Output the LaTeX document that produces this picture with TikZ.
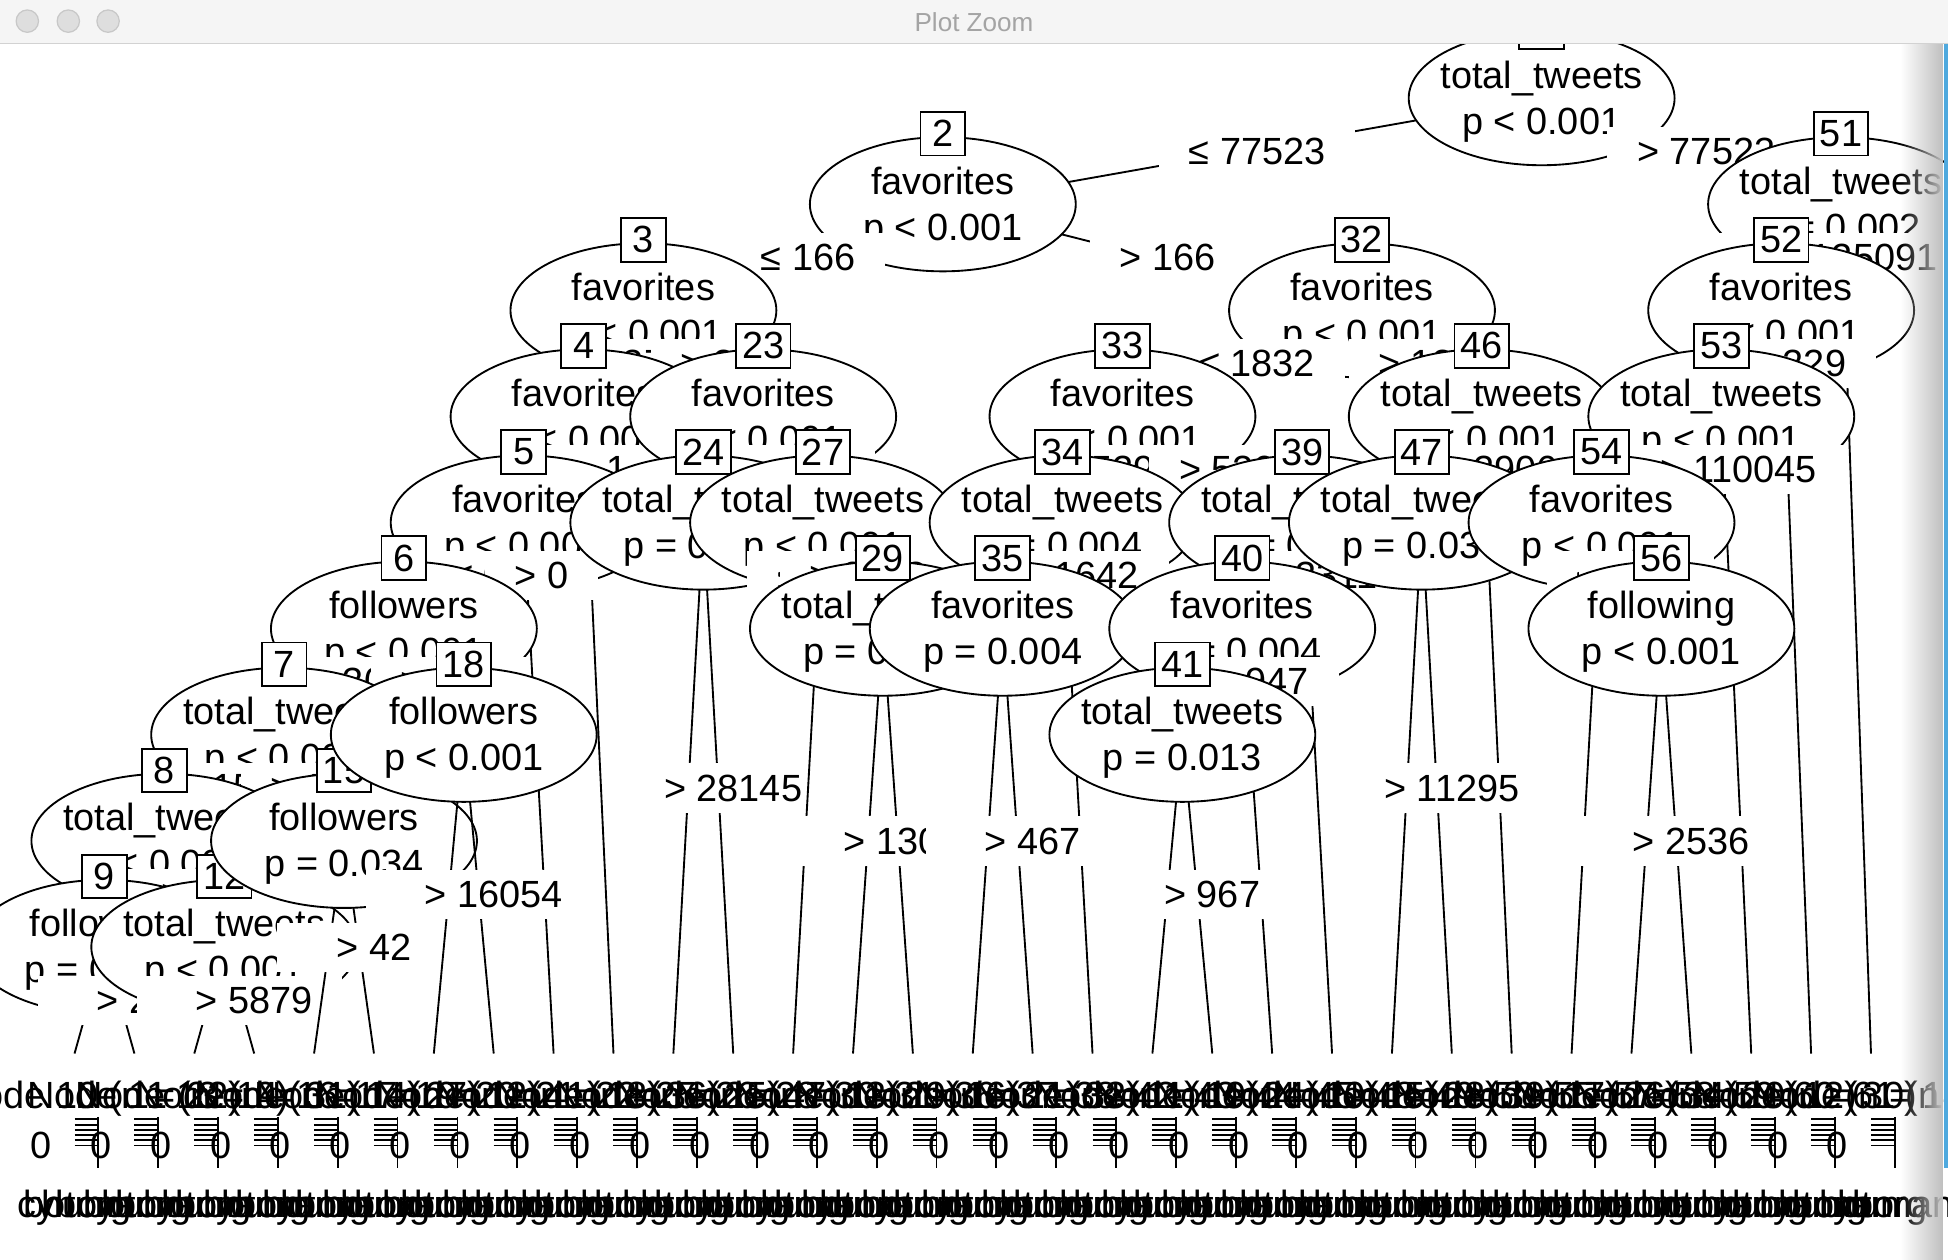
\documentclass[tikz,border=0pt]{standalone}
\usepackage{fontspec}
\setmainfont{Liberation Sans}
\usetikzlibrary{calc}
\usetikzlibrary{shapes.geometric}
\usetikzlibrary{fadings}

\definecolor{barbg}{HTML}{F5F5F5}
\definecolor{barline}{HTML}{D2D2D2}
\definecolor{lightfill}{HTML}{DEDEDE}
\definecolor{lightline}{HTML}{C8C8C8}
\definecolor{titlegray}{HTML}{A4A4A4}
\definecolor{rimblue}{HTML}{4FA9DE}

\tikzfading[name=rimfade, left color=transparent!100, right color=transparent!0]

\newcommand{\treefont}{\fontsize{15.25}{18.5}\selectfont}
% inner node: oval with variable and p value, number box on top
\newcommand{\splitnode}[3]{%
  \node[splitoval] (n#1) at (c#1) {};
  \node[vartext] (v#1) at ([yshift=-1.5pt]n#1.center) {\strut #2\\\strut #3};
  \node[idbox] (b#1) at ([yshift=1pt]n#1.north) {#1};
}

\begin{document}
\begin{tikzpicture}[x=0.5pt, y=-0.5pt,
  branch/.style={line width=0.75pt},
  splitoval/.style={ellipse, draw, line width=0.75pt, fill=white, minimum width=107pt, minimum height=54pt, inner sep=0pt},
  vartext/.style={font=\treefont, align=center, inner sep=0pt},
  idbox/.style={draw, line width=0.75pt, fill=white, font=\treefont, minimum width=18pt, minimum height=17.5pt, inner xsep=2.5pt, inner ysep=0pt},
  splitlabel/.style={fill=white, font=\treefont, inner xsep=12pt, inner ysep=4.5pt, xshift=6pt},
  leaftext/.style={font=\treefont, inner sep=0pt},
  axisline/.style={line width=0.75pt},
  light/.style={circle, draw=lightline, fill=lightfill, line width=0.5pt, minimum size=9pt, inner sep=0pt}]
\useasboundingbox (0,0) rectangle (1568,1014);
\fill[white] (0,0) rectangle (1568,1014);

% positions: x from terminal index, y from depth
\foreach \id/\b/\d in {1/24.5/1, 2/14.5/2, 3/9.5/3, 4/8.5/4, 5/7.5/5, 6/5.5/6, 7/3.5/7, 8/1.5/8, 9/0.5/9,
    12/2.5/9, 15/4.5/8, 18/6.5/7, 23/11.5/4, 24/10.5/5, 27/12.5/5, 29/13.5/6, 32/21.5/3, 33/17.5/4,
    34/16.5/5, 35/15.5/6, 39/20.5/5, 40/19.5/6, 41/18.5/7, 46/23.5/4, 47/22.5/5, 51/29.5/2,
    52/28.5/3, 53/27.5/4, 54/25.5/5, 56/26.5/6}
  \coordinate (c\id) at ({60+48.2*\b},{79+85.4*(\d-1)});
\foreach \id [count=\k from 0] in {10,11,13,14,16,17,19,20,21,22,25,26,28,30,31,36,37,38,
    42,43,44,45,48,49,50,55,57,58,59,60,61}
  \coordinate (t\id) at ({60+48.2*\k},848);

% 1
\draw[branch] (c1) -- (c2); \draw[branch] (c1) -- (c51);
\splitnode{1}{total\_tweets}{p < 0.001}
\node[splitlabel] (e2) at ($(c1)!.5!(c2)$) {≤ 77523};
\node[splitlabel] (e51) at ($(c1)!.5!(c51)$) {> 77523};
% 2
\draw[branch] (c2) -- (c3); \draw[branch] (c2) -- (c32);
\splitnode{2}{favorites}{p < 0.001}
\node[splitlabel] (e3) at ($(c2)!.5!(c3)$) {≤ 166};
\node[splitlabel] (e32) at ($(c2)!.5!(c32)$) {> 166};
% 3
\draw[branch] (c3) -- (c4); \draw[branch] (c3) -- (c23);
\splitnode{3}{favorites}{p < 0.001}
\node[splitlabel] (e4) at ($(c3)!.5!(c4)$) {≤ 37};
\node[splitlabel] (e23) at ($(c3)!.5!(c23)$) {> 37};
% 4
\draw[branch] (c4) -- (c5); \draw[branch] (c4) -- (t22);
\splitnode{4}{favorites}{p < 0.001}
\node[splitlabel] (e5) at ($(c4)!.5!(c5)$) {≤ 1};
\node[splitlabel] (e22) at ($(c4)!.0833!(t22)$) {> 1};
% 5
\draw[branch] (c5) -- (c6); \draw[branch] (c5) -- (t21);
\splitnode{5}{favorites}{p < 0.001}
\node[splitlabel] (e6) at ($(c5)!.5!(c6)$) {≤ 0};
\node[splitlabel] (e21) at ($(c5)!.0999!(t21)$) {> 0};
% 6
\draw[branch] (c6) -- (c7); \draw[branch] (c6) -- (c18);
\splitnode{6}{followers}{p < 0.001}
\node[splitlabel] (e7) at ($(c6)!.5!(c7)$) {≤ 302};
\node[splitlabel] (e18) at ($(c6)!.5!(c18)$) {> 302};
% 7
\draw[branch] (c7) -- (c8); \draw[branch] (c7) -- (c15);
\splitnode{7}{total\_tweets}{p < 0.001}
\node[splitlabel] (e8) at ($(c7)!.5!(c8)$) {≤ 1534};
\node[splitlabel] (e15) at ($(c7)!.5!(c15)$) {> 1534};
% 8
\draw[branch] (c8) -- (c9); \draw[branch] (c8) -- (c12);
\splitnode{8}{total\_tweets}{p < 0.001}
\node[splitlabel] (e9) at ($(c8)!.5!(c9)$) {≤ 402};
\node[splitlabel] (e12) at ($(c8)!.5!(c12)$) {> 402};
% 9
\draw[branch] (c9) -- (t10); \draw[branch] (c9) -- (t11);
\splitnode{9}{followers}{p = 0.018}
\node[splitlabel] (e10) at ($(c9)!.5!(t10)$) {≤ 26};
\node[splitlabel] (e11) at ($(c9)!.5!(t11)$) {> 26};
% 12
\draw[branch] (c12) -- (t13); \draw[branch] (c12) -- (t14);
\splitnode{12}{total\_tweets}{p < 0.001}
\node[splitlabel] (e13) at ($(c12)!.5!(t13)$) {≤ 5879};
\node[splitlabel] (e14) at ($(c12)!.5!(t14)$) {> 5879};
% 15
\draw[branch] (c15) -- (t16); \draw[branch] (c15) -- (t17);
\splitnode{15}{followers}{p = 0.034}
\node[splitlabel] (e16) at ($(c15)!.5!(t16)$) {≤ 42};
\node[splitlabel] (e17) at ($(c15)!.5!(t17)$) {> 42};
% 18
\draw[branch] (c18) -- (t19); \draw[branch] (c18) -- (t20);
\splitnode{18}{followers}{p < 0.001}
\node[splitlabel] (e19) at ($(c18)!.5!(t19)$) {≤ 16054};
\node[splitlabel] (e20) at ($(c18)!.5!(t20)$) {> 16054};
% 23
\draw[branch] (c23) -- (c24); \draw[branch] (c23) -- (c27);
\splitnode{23}{favorites}{p < 0.001}
\node[splitlabel] (e24) at ($(c23)!.5!(c24)$) {≤ 92};
\node[splitlabel] (e27) at ($(c23)!.5!(c27)$) {> 92};
% 24
\draw[branch] (c24) -- (t25); \draw[branch] (c24) -- (t26);
\splitnode{24}{total\_tweets}{p = 0.006}
\node[splitlabel] (e25) at ($(c24)!.5!(t25)$) {≤ 28145};
\node[splitlabel] (e26) at ($(c24)!.5!(t26)$) {> 28145};
% 27
\draw[branch] (c27) -- (t28); \draw[branch] (c27) -- (c29);
\splitnode{27}{total\_tweets}{p < 0.001}
\node[splitlabel] (e28) at ($(c27)!.0999!(t28)$) {≤ 2712};
\node[splitlabel] (e29) at ($(c27)!.5!(c29)$) {> 2712};
% 29
\draw[branch] (c29) -- (t30); \draw[branch] (c29) -- (t31);
\splitnode{29}{total\_tweets}{p = 0.021}
\node[splitlabel] (e30) at ($(c29)!.5!(t30)$) {≤ 13027};
\node[splitlabel] (e31) at ($(c29)!.5!(t31)$) {> 13027};
% 32
\draw[branch] (c32) -- (c33); \draw[branch] (c32) -- (c46);
\splitnode{32}{favorites}{p < 0.001}
\node[splitlabel] (e33) at ($(c32)!.5!(c33)$) {≤ 1832};
\node[splitlabel] (e46) at ($(c32)!.5!(c46)$) {> 1832};
% 33
\draw[branch] (c33) -- (c34); \draw[branch] (c33) -- (c39);
\splitnode{33}{favorites}{p < 0.001}
\node[splitlabel] (e34) at ($(c33)!.5!(c34)$) {≤ 529};
\node[splitlabel] (e39) at ($(c33)!.5!(c39)$) {> 529};
% 34
\draw[branch] (c34) -- (c35); \draw[branch] (c34) -- (t38);
\splitnode{34}{total\_tweets}{p = 0.004}
\node[splitlabel] (e35) at ($(c34)!.5!(c35)$) {≤ 1642};
\node[splitlabel] (e38) at ($(c34)!.0999!(t38)$) {> 1642};
% 35
\draw[branch] (c35) -- (t36); \draw[branch] (c35) -- (t37);
\splitnode{35}{favorites}{p = 0.004}
\node[splitlabel] (e36) at ($(c35)!.5!(t36)$) {≤ 467};
\node[splitlabel] (e37) at ($(c35)!.5!(t37)$) {> 467};
% 39
\draw[branch] (c39) -- (c40); \draw[branch] (c39) -- (t45);
\splitnode{39}{total\_tweets}{p = 0.002}
\node[splitlabel] (e40) at ($(c39)!.5!(c40)$) {≤ 3311};
\node[splitlabel] (e45) at ($(c39)!.0999!(t45)$) {> 3311};
% 40
\draw[branch] (c40) -- (c41); \draw[branch] (c40) -- (t44);
\splitnode{40}{favorites}{p = 0.004}
\node[splitlabel] (e41) at ($(c40)!.5!(c41)$) {≤ 947};
\node[splitlabel] (e44) at ($(c40)!.1249!(t44)$) {> 947};
% 41
\draw[branch] (c41) -- (t42); \draw[branch] (c41) -- (t43);
\splitnode{41}{total\_tweets}{p = 0.013}
\node[splitlabel] (e42) at ($(c41)!.5!(t42)$) {≤ 967};
\node[splitlabel] (e43) at ($(c41)!.5!(t43)$) {> 967};
% 46
\draw[branch] (c46) -- (c47); \draw[branch] (c46) -- (t50);
\splitnode{46}{total\_tweets}{p < 0.001}
\node[splitlabel] (e47) at ($(c46)!.5!(c47)$) {≤ 2906};
\node[splitlabel] (e50) at ($(c46)!.0833!(t50)$) {> 2906};
% 47
\draw[branch] (c47) -- (t48); \draw[branch] (c47) -- (t49);
\splitnode{47}{total\_tweets}{p = 0.037}
\node[splitlabel] (e48) at ($(c47)!.5!(t48)$) {≤ 11295};
\node[splitlabel] (e49) at ($(c47)!.5!(t49)$) {> 11295};
% 51
\draw[branch] (c51) -- (c52); \draw[branch] (c51) -- (t61);
\splitnode{51}{total\_tweets}{p = 0.002}
\node[splitlabel] (e52) at ($(c51)!.5!(c52)$) {≤ 125091};
\node[splitlabel] (e61) at ($(c51)!.0625!(t61)$) {> 125091};
% 52
\draw[branch] (c52) -- (c53); \draw[branch] (c52) -- (t60);
\splitnode{52}{favorites}{p < 0.001}
\node[splitlabel] (e53) at ($(c52)!.5!(c53)$) {≤ 229};
\node[splitlabel] (e60) at ($(c52)!.0714!(t60)$) {> 229};
% 53
\draw[branch] (c53) -- (c54); \draw[branch] (c53) -- (t59);
\splitnode{53}{total\_tweets}{p < 0.001}
\node[splitlabel] (e54) at ($(c53)!.5!(c54)$) {≤ 110045};
\node[splitlabel] (e59) at ($(c53)!.0833!(t59)$) {> 110045};
% 54
\draw[branch] (c54) -- (t55); \draw[branch] (c54) -- (c56);
\splitnode{54}{favorites}{p < 0.001}
\node[splitlabel] (e55) at ($(c54)!.0999!(t55)$) {≤ 63};
\node[splitlabel] (e56) at ($(c54)!.5!(c56)$) {> 63};
% 56
\draw[branch] (c56) -- (t57); \draw[branch] (c56) -- (t58);
\splitnode{56}{following}{p < 0.001}
\node[splitlabel] (e57) at ($(c56)!.5!(t57)$) {≤ 2536};
\node[splitlabel] (e58) at ($(c56)!.5!(t58)$) {> 2536};

% terminal panels, squeezed together
\foreach \id/\n in {10/22,11/9,13/31,14/14,16/27,17/12,19/41,20/18,21/36,22/25,25/47,26/13,28/29,
    30/16,31/21,36/33,37/11,38/19,42/24,43/10,44/15,45/28,48/39,49/17,50/26,55/34,57/20,58/12,
    59/30,60/14,61/23} {
  \node[leaftext, anchor=base] (h\id) at ($(t\id)+(19,44)$) {Node \id\ (n = \n)};
  \foreach \j in {0,...,5}
    \draw[axisline] ($(t\id)+(0,{53+4.2*\j})$) -- ++(19,0);
  \draw[axisline] ($(t\id)+(19,51)$) -- ++(0,41);
  \node[leaftext] (z\id) at ($(t\id)+(-27,74)$) {0};
  \node[leaftext, anchor=base] (lb\id) at ($(t\id)+(-20,132)$) {bot};
  \node[leaftext, anchor=base] (lc\id) at ($(t\id)+(0,132)$) {cyborg};
  \node[leaftext, anchor=base] (lh\id) at ($(t\id)+(20,132)$) {human};
}

% window frame
\fill[black!25, path fading=rimfade] (1530,35) rectangle (1564,1014);
\fill[rimblue] (1564.5,35) rectangle (1568,940);
\fill[barbg] (0,0) rectangle (1568,35);
\draw[barline, line width=0.6pt] (0,35) -- (1568,35);
\foreach \bx [count=\i] in {22,55,87}
  \node[light] (light\i) at (\bx,17) {};
\node[text=titlegray, font=\fontsize{10.5}{12}\selectfont] (title) at (784,18) {Plot Zoom};
\end{tikzpicture}
\end{document}
